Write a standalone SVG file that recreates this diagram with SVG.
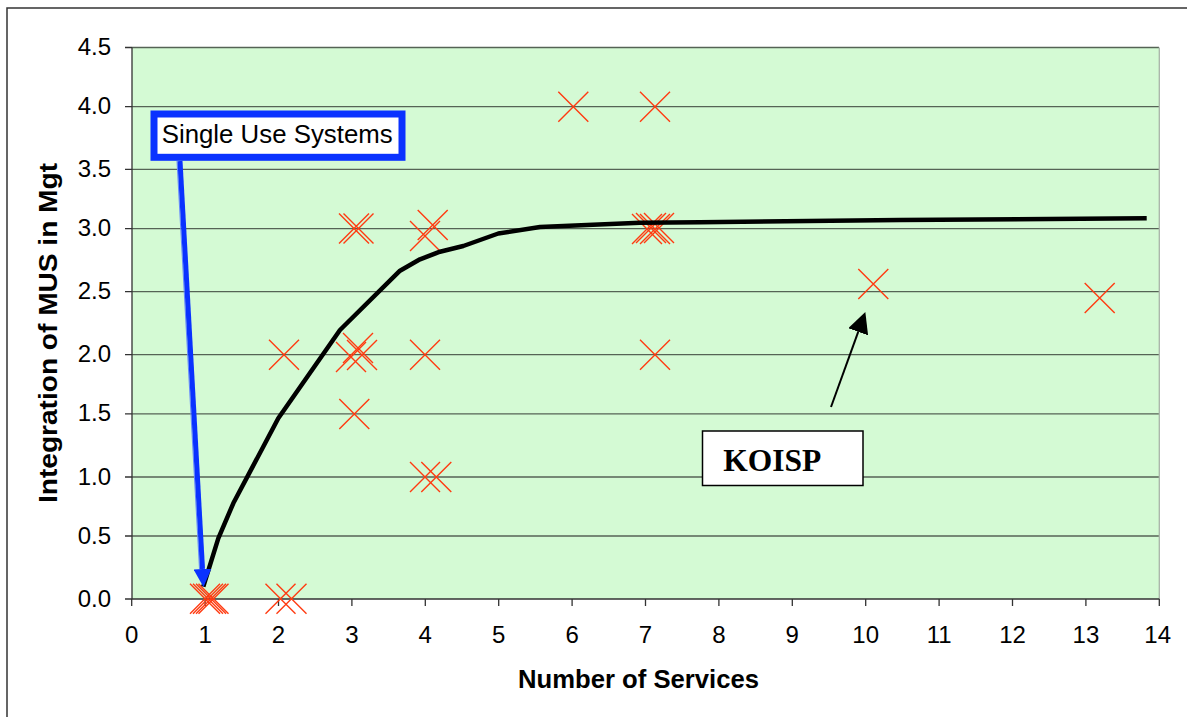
<svg xmlns="http://www.w3.org/2000/svg" xmlns:xlink="http://www.w3.org/1999/xlink" width="1187" height="717" viewBox="0 0 1187 717">
<style>
.grid{stroke:#556355;stroke-width:1.3;fill:none}
.axis{stroke:#333;stroke-width:1.3;fill:none}
.tick{font-family:"Liberation Sans",Arial,sans-serif;font-size:24px;fill:#000}
.title{font-family:"Liberation Sans",Arial,sans-serif;font-size:25px;font-weight:bold;fill:#000}
.mk{stroke:#FF3A10;stroke-width:1.4;fill:none}
</style>
<defs>
<path id="xm" class="mk" d="M-15,-15L15,15M-15,15L15,-15"/>
<marker id="blueHead" markerUnits="userSpaceOnUse" markerWidth="18" markerHeight="18" refX="0" refY="9" orient="auto" viewBox="0 0 18 18"><path d="M0,0L18,9L0,18z" fill="#0A32FF"/></marker>
<marker id="blackHead" markerUnits="userSpaceOnUse" markerWidth="21" markerHeight="21" refX="0" refY="10.5" orient="auto" viewBox="0 0 21 21"><path d="M0,0L21,10.5L0,21z" fill="#000"/></marker>
</defs>
<rect width="1187" height="717" fill="#fff"/>
<g id="frame"><path d="M7,717V8H1187" stroke="#333" stroke-width="1.5" fill="none"/></g>
<g id="plot-area">
<rect x="132" y="47.5" width="1027" height="551.5" fill="#D4FAD4"/>
<path class="grid" d="M132,47.5H1159M132,106.7H1159M132,169.3H1159M132,228.7H1159M132,291.7H1159M132,354.7H1159M132,413.8H1159M132,477H1159M132,536H1159"/>
<path d="M1159.3,47.5V599" stroke="#A8B4A8" stroke-width="1.3"/>
</g>
<g id="axes">
<path class="axis" d="M132,47.5V599H1159.3"/>
<path class="axis" d="M125,47.5H132M125,106.7H132M125,169.3H132M125,228.7H132M125,291.7H132M125,354.7H132M125,413.8H132M125,477H132M125,536H132M125,599H132"/>
<path class="axis" d="M131.7,599V606M205.1,599V606M278.5,599V606M351.9,599V606M425.3,599V606M498.7,599V606M572.1,599V606M645.5,599V606M718.9,599V606M792.3,599V606M865.7,599V606M939.1,599V606M1012.5,599V606M1085.9,599V606M1159.3,599V606"/>
<g class="tick" text-anchor="end">
<text x="111" y="55">4.5</text><text x="111" y="114.3">4.0</text><text x="111" y="177">3.5</text><text x="111" y="236.3">3.0</text><text x="111" y="299.3">2.5</text><text x="111" y="362.3">2.0</text><text x="111" y="421.4">1.5</text><text x="111" y="484.6">1.0</text><text x="111" y="543.6">0.5</text><text x="111" y="606.6">0.0</text>
</g>
<g class="tick" text-anchor="middle">
<text x="131.7" y="643">0</text><text x="205.1" y="643">1</text><text x="278.5" y="643">2</text><text x="351.9" y="643">3</text><text x="425.3" y="643">4</text><text x="498.7" y="643">5</text><text x="572.1" y="643">6</text><text x="645.5" y="643">7</text><text x="718.9" y="643">8</text><text x="792.3" y="643">9</text><text x="865.7" y="643">10</text><text x="939.1" y="643">11</text><text x="1012.5" y="643">12</text><text x="1085.9" y="643">13</text><text x="1157.7" y="643">14</text>
</g>
<text class="title" x="638.5" y="688" text-anchor="middle" textLength="241" lengthAdjust="spacingAndGlyphs">Number of Services</text>
<text class="title" transform="translate(57,333) rotate(-90)" text-anchor="middle" font-size="24" textLength="340" lengthAdjust="spacingAndGlyphs">Integration of MUS in Mgt</text>
</g>
<g id="data-points">
<use href="#xm" x="205" y="598.7"/><use href="#xm" x="208" y="598.7"/><use href="#xm" x="211" y="598.7"/><use href="#xm" x="213.5" y="598.7"/>
<use href="#xm" x="280.5" y="598.7"/><use href="#xm" x="291.5" y="598.7"/>
<use href="#xm" x="284" y="354.7"/>
<use href="#xm" x="354.3" y="414"/>
<use href="#xm" x="351" y="357"/><use href="#xm" x="358" y="348"/><use href="#xm" x="362" y="355"/>
<use href="#xm" x="354" y="228.5"/><use href="#xm" x="358.5" y="228.5"/>
<use href="#xm" x="425" y="354.7"/>
<use href="#xm" x="425" y="477"/><use href="#xm" x="436.3" y="477"/>
<use href="#xm" x="425" y="236"/><use href="#xm" x="432.7" y="225"/>
<use href="#xm" x="573.3" y="106.7"/><use href="#xm" x="655" y="106.7"/>
<use href="#xm" x="647" y="229"/><use href="#xm" x="651" y="228"/><use href="#xm" x="655" y="229"/><use href="#xm" x="659" y="228"/>
<use href="#xm" x="655" y="354.7"/>
<use href="#xm" x="873.3" y="284"/>
<use href="#xm" x="1099.7" y="298"/>
</g>
<g id="trend-curve">
<polyline points="203.3,586.7 218.3,538.3 233.3,503.3 278.3,418.3 340,330 400,270.7 420,259.3 440,251.7 463.3,246 498.3,233.5 540,227 640,222.7 700,222.3 900,220 1146.7,218.3" fill="none" stroke="#000" stroke-width="4.5" stroke-linejoin="round"/>
</g>
<g id="connectors">
<line x1="177" y1="161" x2="199.5" y2="569" stroke="#6688FF" stroke-width="1"/>
<line x1="180" y1="161" x2="202.5" y2="569" stroke="#0A32FF" stroke-width="5" marker-end="url(#blueHead)"/>
<line x1="831" y1="407" x2="858.2" y2="331.8" stroke="#000" stroke-width="2" marker-end="url(#blackHead)"/>
</g>
<g id="label-single-use">
<rect x="154" y="114" width="248" height="43.3" fill="#fff" stroke="#0A32FF" stroke-width="7"/>
<text x="161.7" y="142.7" font-family="'Liberation Sans',Arial,sans-serif" font-size="25" textLength="231" lengthAdjust="spacingAndGlyphs" fill="#000">Single Use Systems</text>
</g>
<g id="label-koisp">
<rect x="702.5" y="431" width="160.5" height="54.5" fill="#fff" stroke="#000" stroke-width="1.5"/>
<text x="723.3" y="470.7" font-family="'Liberation Serif','Times New Roman',serif" font-size="31.5" font-weight="bold" fill="#000">KOISP</text>
</g>
</svg>
